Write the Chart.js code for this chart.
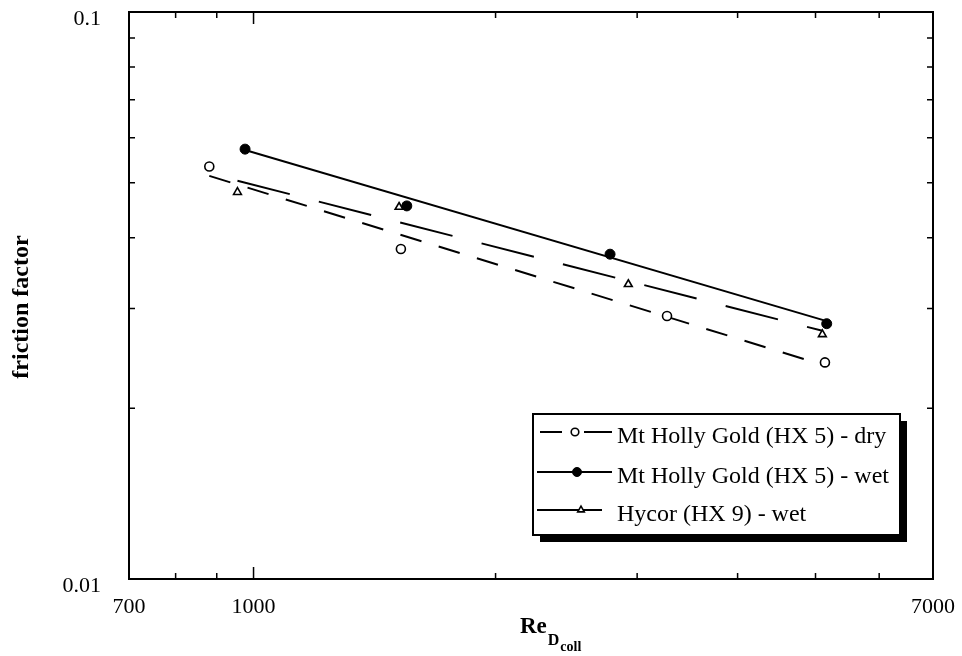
<!DOCTYPE html>
<html><head><meta charset="utf-8">
<script src="https://cdn.jsdelivr.net/npm/chart.js@4.4.1/dist/chart.umd.min.js"></script>
<style>html,body{margin:0;padding:0;background:#fff}#wrap{position:relative;width:962px;height:656px}</style>
</head><body><div id="wrap"><canvas id="c" width="962" height="656"></canvas></div>
<script>
// ---- data ----
const seriesLabels = ['Mt Holly Gold (HX 5) - dry', 'Mt Holly Gold (HX 5) - wet', 'Hycor (HX 9) - wet'];
const reDry = [881, 1525, 3268, 5137];
const fDry = [0.0534, 0.0382, 0.0291, 0.0241];
const reWet = [976, 1551, 2776, 5163];
const fWet = [0.0573, 0.0455, 0.0374, 0.0282];
const reHycor = [955, 1517, 2925, 5099];
const fHycor = [0.0481, 0.0453, 0.0331, 0.0270];
const fitDryRe = [881, 5137];
const fitDryF = [0.0514, 0.0238];
const fitWetRe = [976, 5163];
const fitWetF = [0.0571, 0.0285];
const fitHycorRe = [955, 5099];
const fitHycorF = [0.0504, 0.0274];
const xTickValues = [700, 800, 900, 1000, 2000, 3000, 4000, 5000, 6000, 7000];
const xLabelValues = [700, 1000, 7000];
const yTickValues = [0.01, 0.02, 0.03, 0.04, 0.05, 0.06, 0.07, 0.08, 0.09, 0.1];
const yLabelValues = [0.01, 0.1];
const xTitleParts = ['Re', 'D', 'coll'];
const yTitle = 'friction factor';

const pts = (xs, ys) => xs.map((x, i) => ({x: x, y: ys[i]}));
const SERIF = '"Liberation Serif", "Times New Roman", serif';

const markerStyles = [
  {pointStyle: 'circle', radius: 4.5, bg: '#fff', borderWidth: 1.6},
  {pointStyle: 'circle', radius: 5, bg: '#000', borderWidth: 1},
  {pointStyle: 'triangle', radius: 4.5, bg: '#fff', borderWidth: 1.6}
];
const lineDashes = [[22, 18], [], [54, 30]];

function pointDs(label, data, m) {
  return {type: 'scatter', label: label, data: data, showLine: false,
    pointStyle: m.pointStyle, pointRadius: m.radius, pointHoverRadius: m.radius,
    pointBackgroundColor: m.bg, pointBorderColor: '#000', pointBorderWidth: m.borderWidth};
}
function lineDs(label, data, dash) {
  return {type: 'line', label: label, data: data, showLine: true, pointRadius: 0,
    borderColor: '#000', borderWidth: 2, borderDash: dash, fill: false, tension: 0};
}
function noPad(s) { s.paddingTop = 0; s.paddingBottom = 0; s.paddingLeft = 0; s.paddingRight = 0; }

const decor = {
  id: 'decor',
  afterDraw(chart) {
    const ctx = chart.ctx, a = chart.chartArea, xs = chart.scales.x, ys = chart.scales.y;
    ctx.save();
    ctx.strokeStyle = '#000';
    ctx.lineWidth = 2;
    ctx.strokeRect(a.left, a.top, a.right - a.left, a.bottom - a.top);
    ctx.lineWidth = 1.5;
    ctx.beginPath();
    xTickValues.forEach(v => {
      if (v === xTickValues[0] || v === xTickValues[xTickValues.length - 1]) return;
      const px = xs.getPixelForValue(v);
      const L = v === 1000 ? 12 : 6;
      ctx.moveTo(px, a.bottom); ctx.lineTo(px, a.bottom - L);
      ctx.moveTo(px, a.top); ctx.lineTo(px, a.top + L);
    });
    yTickValues.forEach(v => {
      if (v === yTickValues[0] || v === yTickValues[yTickValues.length - 1]) return;
      const py = ys.getPixelForValue(v);
      ctx.moveTo(a.left, py); ctx.lineTo(a.left + 6, py);
      ctx.moveTo(a.right, py); ctx.lineTo(a.right - 6, py);
    });
    ctx.stroke();

    // axis titles
    ctx.fillStyle = '#000';
    ctx.save();
    ctx.translate(22, 307);
    ctx.rotate(-Math.PI / 2);
    ctx.font = 'bold 24px ' + SERIF;
    ctx.textAlign = 'center';
    ctx.textBaseline = 'middle';
    ctx.fillText(yTitle, 0, 0);
    ctx.restore();
    ctx.textAlign = 'left';
    ctx.textBaseline = 'alphabetic';
    ctx.font = 'bold 23px ' + SERIF;
    ctx.fillText(xTitleParts[0], 520, 633);
    let w = ctx.measureText(xTitleParts[0]).width;
    ctx.font = 'bold 16px ' + SERIF;
    ctx.fillText(xTitleParts[1], 520 + w + 1, 645);
    const w2 = ctx.measureText(xTitleParts[1]).width;
    ctx.font = 'bold 14px ' + SERIF;
    ctx.fillText(xTitleParts[2], 520 + w + 1 + w2 + 1, 651);

    // legend
    const bx = 533, by = 414, bw = 367, bh = 121, sh = 7;
    ctx.fillStyle = '#000';
    ctx.fillRect(bx + sh, by + sh, bw, bh);
    ctx.fillStyle = '#fff';
    ctx.fillRect(bx, by, bw, bh);
    ctx.lineWidth = 2;
    ctx.strokeRect(bx, by, bw, bh);
    const rowY = [432, 472, 510];
    const segs = [[[540, 562], [584, 612]], [[537, 612]], [[537, 602]]];
    const mx = [575, 577, 581];
    const mr = [3.8, 4.5, 3.8];
    ctx.font = '24px ' + SERIF;
    seriesLabels.forEach((lab, i) => {
      ctx.strokeStyle = '#000';
      ctx.lineWidth = 2;
      ctx.setLineDash([]);
      ctx.beginPath();
      segs[i].forEach(s => { ctx.moveTo(s[0], rowY[i]); ctx.lineTo(s[1], rowY[i]); });
      ctx.stroke();
      const m = markerStyles[i];
      ctx.fillStyle = m.bg;
      ctx.lineWidth = m.borderWidth;
      Chart.helpers.drawPoint(ctx, {pointStyle: m.pointStyle, radius: mr[i], borderWidth: m.borderWidth, rotation: 0}, mx[i], rowY[i]);
      ctx.fillStyle = '#000';
      ctx.textBaseline = 'alphabetic';
      ctx.fillText(lab, 617, rowY[i] + 11);
    });
    ctx.restore();
  }
};

new Chart(document.getElementById('c'), {
  data: {
    datasets: [
      pointDs(seriesLabels[0], pts(reDry, fDry), markerStyles[0]),
      pointDs(seriesLabels[1], pts(reWet, fWet), markerStyles[1]),
      pointDs(seriesLabels[2], pts(reHycor, fHycor), markerStyles[2]),
      lineDs(seriesLabels[0] + ' fit', pts(fitDryRe, fitDryF), lineDashes[0]),
      lineDs(seriesLabels[1] + ' fit', pts(fitWetRe, fitWetF), lineDashes[1]),
      lineDs(seriesLabels[2] + ' fit', pts(fitHycorRe, fitHycorF), lineDashes[2])
    ]
  },
  options: {
    responsive: false,
    animation: false,
    devicePixelRatio: 1,
    layout: {padding: {top: 12, right: 29, left: 0, bottom: 0}},
    plugins: {legend: {display: false}, tooltip: {enabled: false}},
    scales: {
      x: {
        type: 'logarithmic', min: 700, max: 7000,
        grid: {display: false, drawTicks: false},
        border: {display: false},
        afterBuildTicks: s => { s.ticks = xTickValues.map(v => ({value: v})); },
        afterFit: s => { s.height = 77; noPad(s); },
        ticks: {
          autoSkip: false, maxRotation: 0, padding: 15, color: '#000',
          font: {family: SERIF, size: 22},
          callback: v => xLabelValues.some(l => Math.abs(l - v) < 1e-6) ? String(v) : ''
        }
      },
      y: {
        type: 'logarithmic', min: 0.01, max: 0.1,
        grid: {display: false, drawTicks: false},
        border: {display: false},
        afterBuildTicks: s => { s.ticks = yTickValues.map(v => ({value: v})); },
        afterFit: s => { s.width = 129; noPad(s); },
        ticks: {
          autoSkip: false, padding: 28, color: '#000', labelOffset: 7,
          font: {family: SERIF, size: 22},
          callback: v => yLabelValues.some(l => Math.abs(l - v) < 1e-9) ? String(v) : ''
        }
      }
    }
  },
  plugins: [decor]
});
</script>
</body></html>
